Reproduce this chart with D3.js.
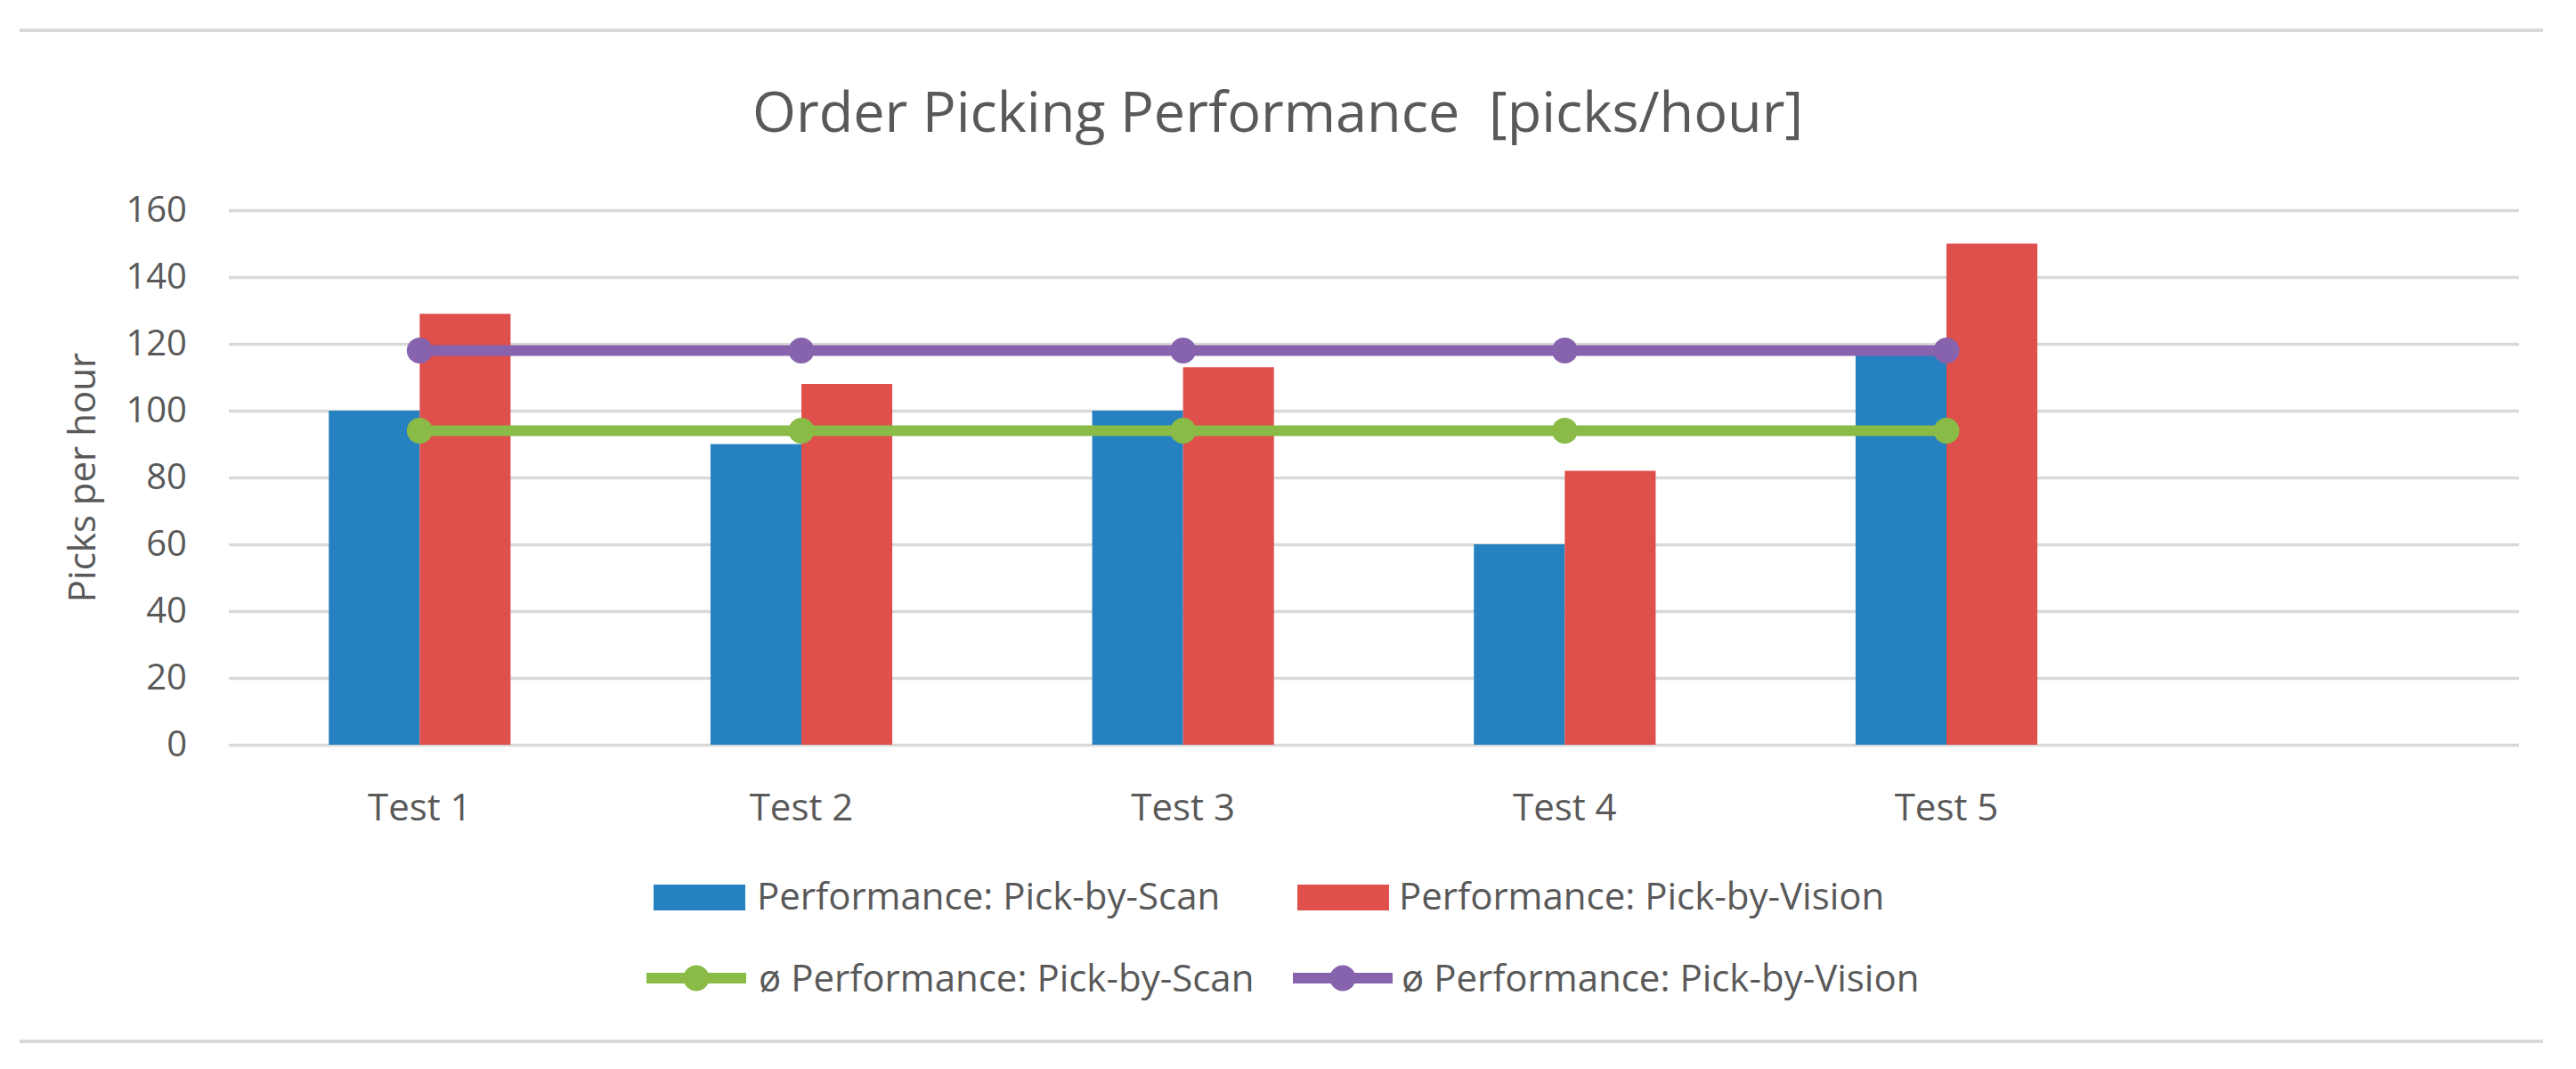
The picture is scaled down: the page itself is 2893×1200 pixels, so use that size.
<!DOCTYPE html>
<html>
<head>
<meta charset="utf-8">
<script src="https://cdn.jsdelivr.net/npm/d3@7"></script>
<style>
  body { margin: 0; background: #fff; }
  text { font-family: "Open Sans", sans-serif; fill: #595959; }
</style>
</head>
<body>
<div class="canvas"></div>
<script>
// data
const categories = ['Test 1', 'Test 2', 'Test 3', 'Test 4', 'Test 5'];
const scanValues = [100, 90, 100, 60, 117];
const visionValues = [129, 108, 113, 82, 150];
const avgScan = [94, 94, 94, 94, 94];
const avgVision = [118, 118, 118, 118, 118];
const yTicks = [0, 20, 40, 60, 80, 100, 120, 140, 160];
const seriesNames = ['Performance: Pick-by-Scan', 'Performance: Pick-by-Vision'];
const avgNames = ['ø Performance: Pick-by-Scan', 'ø Performance: Pick-by-Vision'];

const W = 2893, H = 1200;
const colors = { scan: '#2581c0', vision: '#df4f4c', avgScan: '#89bb46', avgVision: '#8663ac' };

const svg = d3.select('.canvas')
    .append('svg')
    .attr('width', W)
    .attr('height', H);

// plot area
const plot = { left: 257, right: 2829, top: 236, bottom: 836 };

// chart frame lines
svg.append('line').attr('x1', 22).attr('x2', 2856).attr('y1', 34).attr('y2', 34)
    .attr('stroke', '#d9d9d9').attr('stroke-width', 4);
svg.append('line').attr('x1', 22).attr('x2', 2856).attr('y1', 1169).attr('y2', 1169)
    .attr('stroke', '#d9d9d9').attr('stroke-width', 4);

// title
svg.append('text')
    .attr('x', 1435).attr('y', 148)
    .attr('text-anchor', 'middle')
    .attr('font-size', 63)
    .style('white-space', 'pre')
    .text('Order Picking Performance  [picks/hour]');

// scales (one empty slot on the right, like the original)
const x = d3.scaleBand()
    .domain(categories.concat(['']))
    .range([plot.left, plot.right]);

const xSub = d3.scaleBand()
    .domain(['scan', 'vision'])
    .range([0, x.bandwidth()])
    .paddingInner(0)
    .paddingOuter(1.1);

const y = d3.scaleLinear()
    .domain([0, 160])
    .range([plot.bottom, plot.top]);

// y axis + gridlines
const yAxis = d3.axisLeft(y)
    .tickValues(yTicks)
    .tickSize(-(plot.right - plot.left))
    .tickPadding(47);

const yAxisGroup = svg.append('g')
    .attr('transform', `translate(${plot.left}, 0)`)
    .call(yAxis);
yAxisGroup.select('.domain').remove();
yAxisGroup.selectAll('.tick line').attr('stroke', '#d9d9d9').attr('stroke-width', 3.5);
yAxisGroup.selectAll('.tick text')
    .attr('font-size', 40)
    .attr('font-family', '"Open Sans", sans-serif')
    .attr('fill', '#595959');

// y axis title
svg.append('text')
    .attr('transform', 'translate(107, 536) rotate(-90)')
    .attr('text-anchor', 'middle')
    .attr('font-size', 42)
    .text('Picks per hour');

// category labels
svg.append('g').selectAll('text')
    .data(categories)
    .enter().append('text')
    .attr('x', d => x(d) + x.bandwidth() / 2)
    .attr('y', 921)
    .attr('text-anchor', 'middle')
    .attr('font-size', 42)
    .text(d => d);

// bars
const bars = svg.append('g');
bars.selectAll('rect.scan')
    .data(scanValues)
    .enter().append('rect')
    .attr('class', 'scan')
    .attr('x', (d, i) => x(categories[i]) + xSub('scan'))
    .attr('y', d => y(d))
    .attr('width', xSub.bandwidth())
    .attr('height', d => y(0) - y(d))
    .attr('fill', colors.scan);

bars.selectAll('rect.vision')
    .data(visionValues)
    .enter().append('rect')
    .attr('class', 'vision')
    .attr('x', (d, i) => x(categories[i]) + xSub('vision'))
    .attr('y', d => y(d))
    .attr('width', xSub.bandwidth())
    .attr('height', d => y(0) - y(d))
    .attr('fill', colors.vision);

// average lines with markers
const line = d3.line()
    .x((d, i) => x(categories[i]) + x.bandwidth() / 2)
    .y(d => y(d));

[[avgScan, colors.avgScan], [avgVision, colors.avgVision]].forEach(([vals, col]) => {
    svg.append('path')
        .datum(vals)
        .attr('d', line)
        .attr('fill', 'none')
        .attr('stroke', col)
        .attr('stroke-width', 12);
    svg.append('g').selectAll('circle')
        .data(vals)
        .enter().append('circle')
        .attr('cx', (d, i) => x(categories[i]) + x.bandwidth() / 2)
        .attr('cy', d => y(d))
        .attr('r', 14.5)
        .attr('fill', col);
});

// legend
const legend = svg.append('g');
const barItems = [
    { name: seriesNames[0], color: colors.scan, sx: 734, tx: 850 },
    { name: seriesNames[1], color: colors.vision, sx: 1457, tx: 1571 }
];
barItems.forEach(it => {
    legend.append('rect')
        .attr('x', it.sx).attr('y', 993)
        .attr('width', 103).attr('height', 29)
        .attr('fill', it.color);
    legend.append('text')
        .attr('x', it.tx).attr('y', 1021)
        .attr('font-size', 42)
        .text(it.name);
});

const lineItems = [
    { name: avgNames[0], color: colors.avgScan, lx: 726, tx: 852 },
    { name: avgNames[1], color: colors.avgVision, lx: 1452, tx: 1574 }
];
lineItems.forEach(it => {
    legend.append('line')
        .attr('x1', it.lx).attr('x2', it.lx + 112)
        .attr('y1', 1098).attr('y2', 1098)
        .attr('stroke', it.color).attr('stroke-width', 12);
    legend.append('circle')
        .attr('cx', it.lx + 56).attr('cy', 1098)
        .attr('r', 14.5).attr('fill', it.color);
    legend.append('text')
        .attr('x', it.tx).attr('y', 1113)
        .attr('font-size', 42)
        .text(it.name);
});
</script>
</body>
</html>
